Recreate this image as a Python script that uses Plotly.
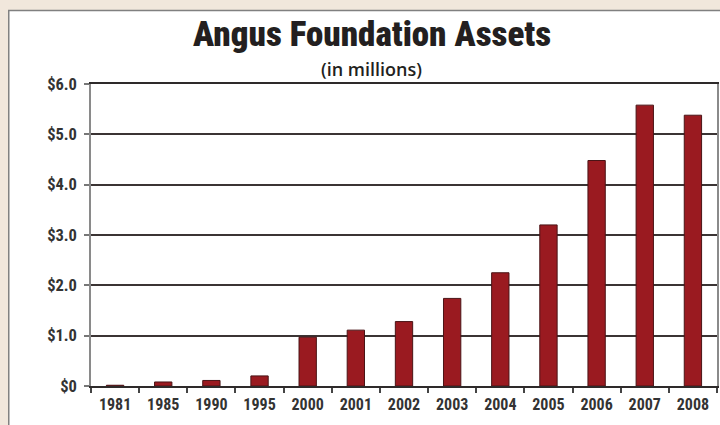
import plotly.graph_objects as go

years = ["1981", "1985", "1990", "1995", "2000", "2001", "2002", "2003", "2004", "2005", "2006", "2007", "2008"]
assets = [0.015, 0.08, 0.11, 0.2, 0.97, 1.11, 1.28, 1.74, 2.25, 3.2, 4.48, 5.58, 5.38]
ytick_vals = [0, 1, 2, 3, 4, 5, 6]
ytick_text = ["$0", "$1.0", "$2.0", "$3.0", "$4.0", "$5.0", "$6.0"]
title_text = "Angus Foundation Assets"
subtitle_text = "(in millions)"

FONT = "Roboto Condensed, Open Sans Condensed, DejaVu Sans, sans-serif"
SUBFONT = "Open Sans, Roboto, DejaVu Sans, sans-serif"
W, H = 720, 425
L, R, T, B = 91, 1, 84, 39
PW = W - L - R
PH = H - T - B

def px_x(p):
    return (p - L) / PW

def px_y(q):
    return (H - B - q) / PH

fig = go.Figure()
fig.add_trace(go.Bar(
    x=years, y=assets, width=0.36,
    marker=dict(color="#9a1a20", line=dict(color="#4a1416", width=1)),
    hoverinfo="x+y",
))

fig.update_layout(
    width=W, height=H,
    margin=dict(l=L, r=R, t=T, b=B),
    paper_bgcolor="#f1e7dc",
    plot_bgcolor="#e8d4bb",
    showlegend=False,
    font=dict(family=FONT, color="#333333"),
    xaxis=dict(
        type="category", range=[-0.5, 12.5],
        showline=True, mirror=True, linecolor="#2e2a2a", linewidth=2,
        ticks="outside", tickson="boundaries", ticklen=5, tickcolor="#444444", tickwidth=1.5,
        tickfont=dict(family=FONT, size=16, color="#333333", weight=700),
        ticklabelstandoff=3,
        showgrid=False, fixedrange=True,
    ),
    yaxis=dict(
        range=[0, 6], tickvals=ytick_vals, ticktext=ytick_text,
        showline=True, mirror=True, linecolor="#8a8a8a", linewidth=1.5,
        ticks="outside", ticklen=5, tickcolor="#777777", tickwidth=1.5,
        tickfont=dict(family=FONT, size=16.5, color="#333333", weight=700),
        ticklabelstandoff=4,
        showgrid=True, gridcolor="#3b3434", gridwidth=1.5,
        zeroline=False, fixedrange=True,
    ),
    shapes=[
        dict(type="rect", xref="paper", yref="paper", layer="below",
             x0=px_x(8.5), x1=px_x(760), y0=px_y(470), y1=px_y(10.5),
             fillcolor="#ffffff", line=dict(color="#808080", width=1.5)),
    ],
    annotations=[
        dict(text=title_text, xref="paper", yref="paper",
             x=px_x(373), y=px_y(35), xanchor="center", yanchor="middle",
             showarrow=False, font=dict(family=FONT, size=35, color="#231f20", weight=900)),
        dict(text=subtitle_text, xref="paper", yref="paper",
             x=px_x(372), y=px_y(69), xanchor="center", yanchor="middle",
             showarrow=False, font=dict(family=SUBFONT, size=18, color="#231f20", weight=600)),
    ],
)

fig.write_html("out.html", config={"displayModeBar": False},
               post_script="document.body.style.margin='0'")
